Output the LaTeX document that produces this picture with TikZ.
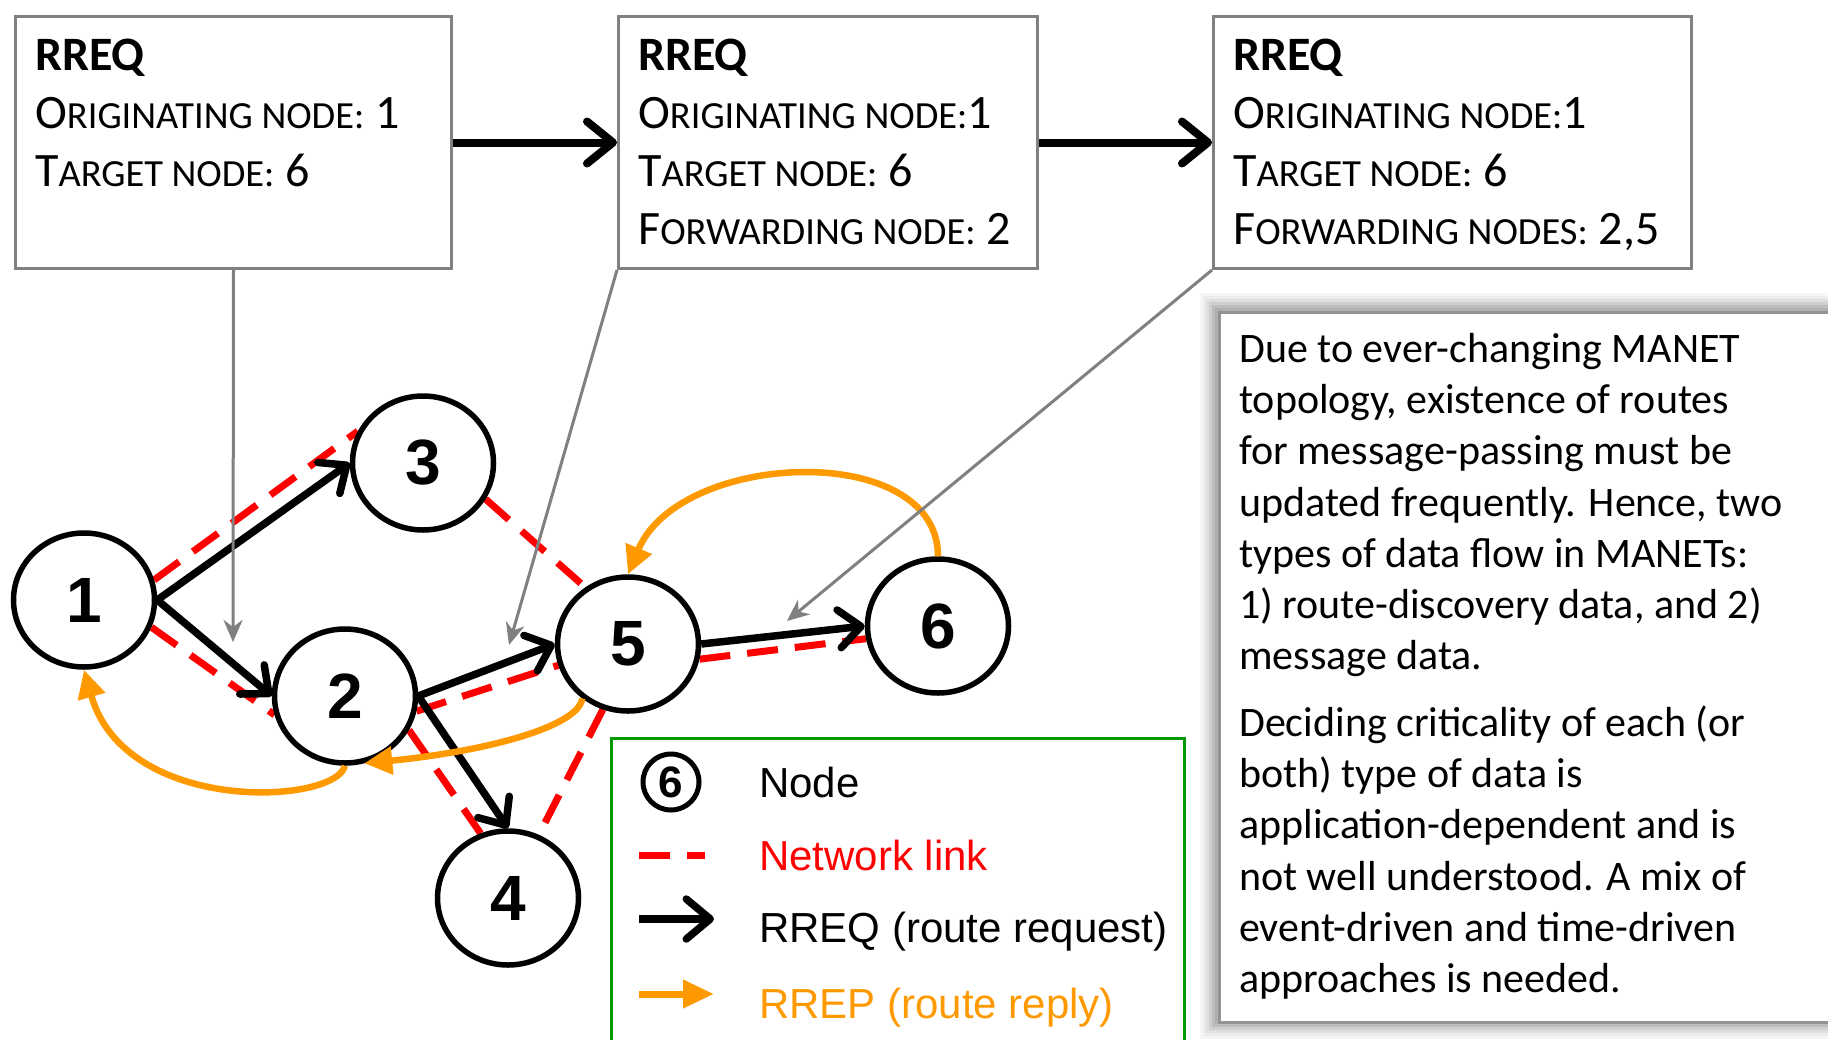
\documentclass[tikz,border=0pt]{standalone}
\usepackage{fontspec}
\setmainfont{Carlito}
\newfontfamily\arialf{Liberation Sans}
\usetikzlibrary{arrows.meta,shapes.geometric,calc}
\definecolor{rorange}{RGB}{255,153,0}
\definecolor{rgreen}{RGB}{0,153,0}
\definecolor{boxgray}{RGB}{128,128,128}
\newcommand\smc[1]{{\fontsize{38.4}{58}\selectfont\MakeUppercase{#1}}}
\pgfdeclarelayer{back}
\pgfdeclarelayer{bg}
\pgfsetlayers{back,bg,main}
\begin{document}
\begin{tikzpicture}[x=1pt,y=-1pt,
  rbox/.style={draw=boxgray, line width=3pt, fill=white, inner sep=0pt, anchor=north west, minimum height=252pt},
  rtext/.style={anchor=north west, inner sep=0pt, align=left, font=\fontsize{48}{58}\selectfont},
  gnode/.style={ellipse, draw, line width=5.5pt, fill=white, minimum width=141pt, minimum height=134pt, inner sep=0pt, font=\arialf\bfseries\fontsize{64}{66}\selectfont},
  link/.style={red, line width=7pt, dash pattern=on 31pt off 17pt},
  rreq/.style={line width=7.5pt, -{Straight Barb[length=22pt,width=38pt,round]}},
  rrep/.style={rorange, line width=6.5pt, -{Triangle[length=28pt,width=27pt]}},
  pointer/.style={boxgray, line width=3pt, -{Stealth[length=22pt,width=19pt,inset=7pt]}},
  bigarrow/.style={line width=8pt, -{Straight Barb[length=26pt,width=42pt,round]}},
  legtext/.style={anchor=base west, inner sep=0pt, font=\arialf\fontsize{42}{50}\selectfont}
]
\useasboundingbox (0,0) rectangle (1828,1039);
\begin{pgfonlayer}{back}
\fill[white] (0,0) rectangle (1828,1039);
\end{pgfonlayer}

% text box with soft shadow
\foreach \d/\c in {18/8,15/15,12/25,9/38,6/52,3/62}{
  \fill[gray!\c] (1218-\d,311-\d) rectangle (1860,1021+\d);
}
\node[draw=gray!85, line width=3pt, fill=white, minimum width=642pt, minimum height=710pt, anchor=north west, inner sep=0pt] (tb) at (1218,311) {};
\node[anchor=north west, inner sep=0pt, align=left, font=\fontsize{42}{51.3}\selectfont] (tbt) at (1239,326) {\rule{0pt}{35.9pt}Due to ever-changing MANET\\
topology, existence of routes\\
for message-passing must be\\
updated frequently. Hence, two\\
types of data flow in MANETs:\\
1) route-discovery data, and 2)\\
message data.\\[14.9pt]
Deciding criticality of each (or\\
both) type of data is\\
application-dependent and is\\
not well understood. A mix of\\
event-driven and time-driven\\
approaches is needed.};

% RREQ boxes
\node[rbox, minimum width=436pt] (b1) at (14,15) {};
\node[rbox, minimum width=419pt] (b2) at (617,15) {};
\node[rbox, minimum width=478pt] (b3) at (1212,15) {};
\node[rtext] (t1) at (35,29.4) {\rule{0pt}{40.6pt}\textbf{RREQ}\\ O\smc{riginating node:} 1\\ T\smc{arget node:} 6};
\node[rtext] (t2) at (638,29.4) {\rule{0pt}{40.6pt}\textbf{RREQ}\\ O\smc{riginating node:}1\\ T\smc{arget node:} 6\\ F\smc{orwarding node:} 2};
\node[rtext] (t3) at (1233,29.4) {\rule{0pt}{40.6pt}\textbf{RREQ}\\ O\smc{riginating node:}1\\ T\smc{arget node:} 6\\ F\smc{orwarding nodes:} 2,5};
\draw[bigarrow] (b1.east) -- (b2.west);
\draw[bigarrow] (b2.east) -- (b3.west);

% graph nodes
\node[gnode] (n1) at (84,600) {1};
\node[gnode] (n2) at (345,696) {2};
\node[gnode] (n3) at (423,463) {3};
\node[gnode] (n4) at (508,898) {4};
\node[gnode] (n5) at (628,644) {5};
\node[gnode] (n6) at (938,626) {6};

% network links (under the nodes)
\begin{pgfonlayer}{bg}
\draw[link] (n1.16) -- (n3.154);
\draw[link] (n1.-22) -- (n2.195);
\draw[link] (n3.-30) -- (n5.127);
\draw[link] (n2.-12) -- (n5.197);
\draw[link] (n2.-28) -- (n4.113);
\draw[link] (n5.-111) -- (n4.64);
\draw[link] (n5.-12) -- (n6.190);
\end{pgfonlayer}

% RREQ arrows
\draw[rreq] (n1.east) -- (n3.west);
\draw[rreq] (n1.east) -- (n2.west);
\draw[rreq] (n2.east) -- (n5.west);
\draw[rreq] (n2.east) -- (n4.north);
\draw[rreq] (n5.east) -- (n6.west);

% RREP arrows
\draw[rrep] (n6.north) .. controls (938,440) and (680,450) .. (n5.north);
\draw[rrep] (n5.-130) .. controls (578,728) and (480,752) .. (n2.-74);
\draw[rrep] (n2.south) .. controls (335,805) and (125,815) .. (n1.south);

% pointers from boxes
\coordinate (g1) at (233,642);
\coordinate (g2) at (509,645);
\coordinate (g3) at (787,621);
\draw[pointer] (b1.south) -- (g1);
\draw[pointer] (b2.south west) -- (g2);
\draw[pointer] (b3.south west) -- (g3);

% legend
\node[draw=rgreen, line width=3pt, minimum width=573pt, minimum height=330pt, anchor=north west, inner sep=0pt] (lg) at (610,737) {};
\node[circle, draw, line width=5pt, minimum size=56pt, inner sep=0pt, font=\arialf\bfseries\fontsize{44}{44}\selectfont] (lgc) at (671,782) {6};
\node[legtext] (lgt1) at (759,797) {Node};
\coordinate (ld1) at (639,855);
\coordinate (ld2) at (705,855);
\draw[link] (ld1) -- (ld2);
\node[legtext, text=red] (lgt2) at (759,870) {Network link};
\coordinate (la1) at (639,919);
\coordinate (la2) at (714,919);
\draw[line width=7.5pt, -{Straight Barb[length=24pt,width=40pt,round]}] (la1) -- (la2);
\node[legtext] (lgt3) at (759,942) {RREQ (route request)};
\coordinate (lo1) at (639,994);
\coordinate (lo2) at (714,994);
\draw[rorange, line width=7pt, -{Triangle[length=31pt,width=27pt]}] (lo1) -- (lo2);
\node[legtext, text=rorange] (lgt4) at (759,1018) {RREP (route reply)};
\end{tikzpicture}
\end{document}
